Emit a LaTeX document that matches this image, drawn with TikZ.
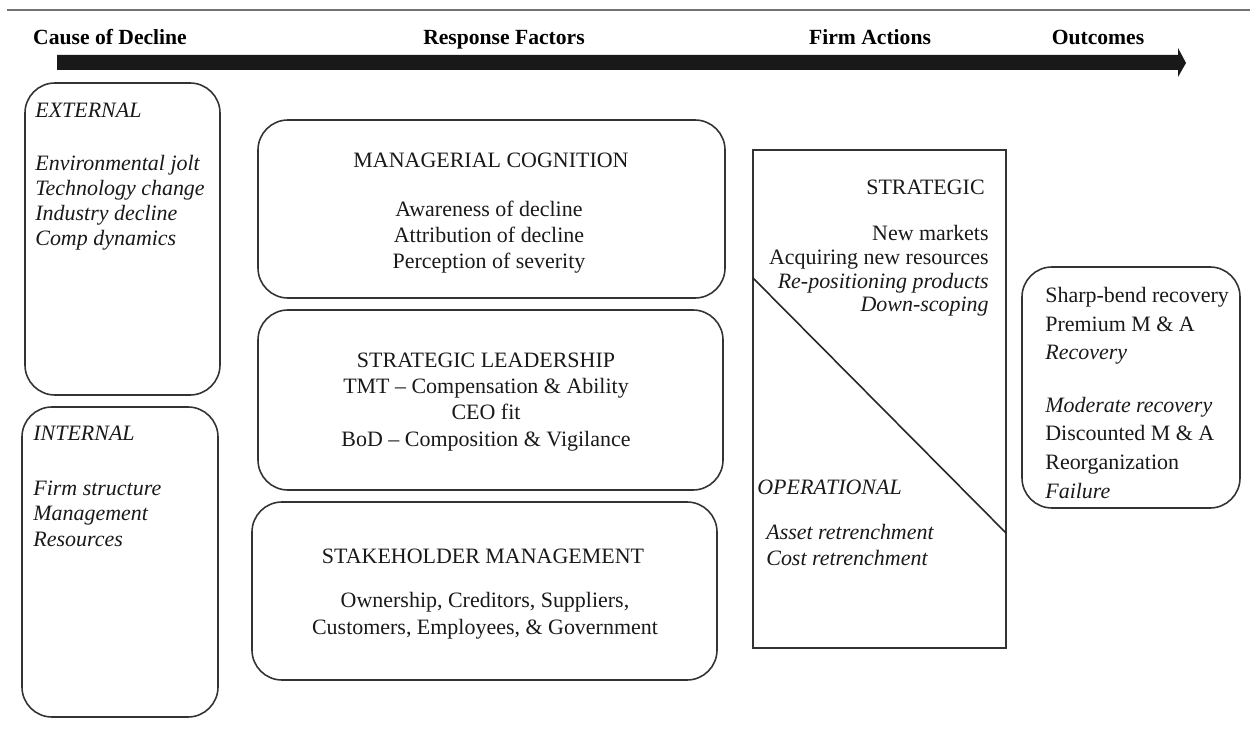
\documentclass[tikz,border=0pt]{standalone}
\usepackage{fontspec}
\setmainfont{Liberation Serif}
\usetikzlibrary{positioning}

\tikzset{
  panel/.style={draw=black!80, line width=0.9pt, rounded corners=0.6cm},
  plain panel/.style={draw=black!80, line width=0.9pt},
  stage/.style={font=\fontsize{12.3}{14}\selectfont\bfseries, anchor=base, inner sep=0pt},
  txt/.style={font=\fontsize{12.5}{14.8}\selectfont, inner sep=0pt, text=black!90},
  itxt/.style={txt, font=\fontsize{12.5}{14.4}\selectfont\itshape},
}

\begin{document}
\begin{tikzpicture}[x=0.02cm, y=-0.02cm]
  \useasboundingbox (0,0) rectangle (1250,749);

  % top rule and time line
  \draw[black!55, line width=1.2pt] (7,10) -- (1250,10);
  \fill[black!90] (57,55) -- (1178,55) -- (1178,48) -- (1186,63)
    -- (1178,77) -- (1178,70) -- (57,70) -- cycle;

  % stage headings
  \node[stage] (cause)    at (110,45)  {Cause of Decline};
  \node[stage] (response) at (504,45)  {Response Factors};
  \node[stage] (actions)  at (870,45)  {Firm Actions};
  \node[stage] (outcomes) at (1098,45) {Outcomes};

  % causes of decline (multi-line nodes sit on their last baseline)
  \draw[panel] (25,83) rectangle (220,395);
  \node[itxt, anchor=base west] (external) at (35,118) {EXTERNAL};
  \node[itxt, anchor=base west, align=left] (extlist) at (35,246)
    {Environmental jolt\\Technology change\\Industry decline\\Comp dynamics};

  \draw[panel] (22,407) rectangle (218,717);
  \node[itxt, anchor=base west] (internal) at (33,440) {INTERNAL};
  \node[itxt, anchor=base west, align=left] (intlist) at (33,546)
    {Firm structure\\Management\\Resources};

  % response factors
  \draw[panel] (258,120) rectangle (725,298);
  \node[txt, anchor=base] (cognition) at (491,168) {MANAGERIAL COGNITION};
  \node[txt, anchor=base, align=center] (coglist) at (489,269)
    {Awareness of decline\\Attribution of decline\\Perception of severity};

  \draw[panel] (258,310) rectangle (723,490);
  \node[txt, anchor=base, align=center] (leadership) at (486,446)
    {STRATEGIC LEADERSHIP\\TMT -- Compensation \& Ability\\CEO fit\\BoD -- Composition \& Vigilance};

  \draw[panel] (252,502) rectangle (717,680);
  \node[txt, anchor=base] (stakeholder) at (483,563) {STAKEHOLDER MANAGEMENT};
  \node[txt, anchor=base, align=center] (stakelist) at (485,634)
    {Ownership, Creditors, Suppliers,\\Customers, Employees, \& Government};

  % firm actions, split by the diagonal
  \draw[plain panel] (753,150) rectangle (1006,648);
  \coordinate (cutA) at (753,278);
  \coordinate (cutB) at (1006,533);
  \draw[black!85, line width=0.9pt] (cutA) -- (cutB);
  \node[txt, anchor=base east] (strategic) at (985,195) {STRATEGIC};
  \node[txt, anchor=base east, align=right, font=\fontsize{12.5}{13.5}\selectfont] (stratlist) at (989,312)
    {New markets\\Acquiring new resources\\\textit{Re-positioning products}\\\textit{Down-scoping}};
  \node[itxt, anchor=base west] (operational) at (757,494) {OPERATIONAL};
  \node[itxt, anchor=base west, align=left] (oplist) at (766,565)
    {Asset retrenchment\\Cost retrenchment};

  % outcomes
  \draw[panel] (1022,267) rectangle (1240,508);
  \node[txt, anchor=base west, align=left, font=\fontsize{12.5}{16.3}\selectfont] (good) at (1045,360)
    {Sharp-bend recovery\\Premium M \& A\\\textit{Recovery}};
  \node[txt, anchor=base west, align=left, font=\fontsize{12.5}{16.3}\selectfont] (bad) at (1045,498)
    {\textit{Moderate recovery}\\Discounted M \& A\\Reorganization\\\textit{Failure}};
\end{tikzpicture}
\end{document}
